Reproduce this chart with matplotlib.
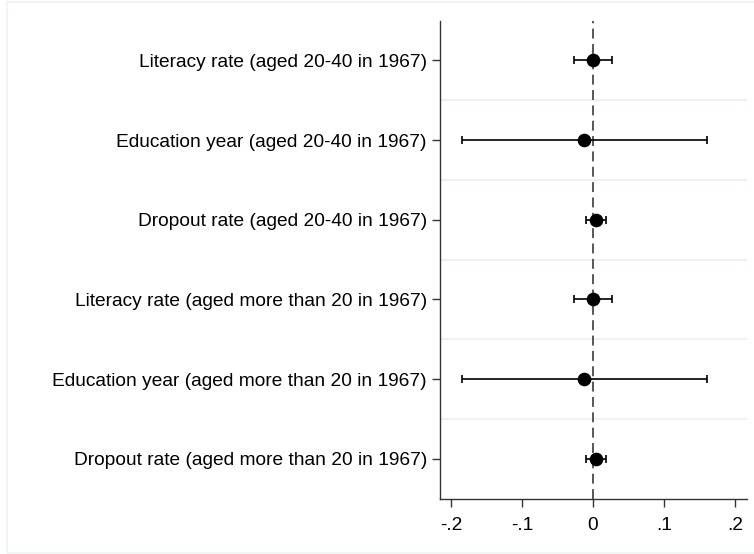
import matplotlib
matplotlib.use("Agg")
import matplotlib.pyplot as plt
from matplotlib.patches import Rectangle

labels = [
    "Literacy rate (aged 20-40 in 1967)",
    "Education year (aged 20-40 in 1967)",
    "Dropout rate (aged 20-40 in 1967)",
    "Literacy rate (aged more than 20 in 1967)",
    "Education year (aged more than 20 in 1967)",
    "Dropout rate (aged more than 20 in 1967)",
]
coef = [0.0, -0.012, 0.0045, 0.0, -0.012, 0.0045]
ci_low = [-0.027, -0.184, -0.0095, -0.027, -0.184, -0.0097]
ci_high = [0.027, 0.160, 0.018, 0.027, 0.160, 0.018]
xticks = [-0.2, -0.1, 0, 0.1, 0.2]
xticklabels = ["-.2", "-.1", "0", ".1", ".2"]

plt.rcParams['font.family'] = ['Liberation Sans', 'DejaVu Sans']

fig = plt.figure(figsize=(7.54, 5.54), dpi=100)
# light outer frame like the Stata graph region
fig.patches.append(Rectangle((7 / 754, 1 - 553 / 554), 1.0, 551 / 554,
                             transform=fig.transFigure, fill=False,
                             edgecolor="#edf3f3", linewidth=1.2))
ax = fig.add_axes([439.5 / 754, 1 - 498.5 / 554, 307.5 / 754, 478 / 554])

ypos = list(range(1, len(labels) + 1))
xerr = [[c - lo for c, lo in zip(coef, ci_low)], [hi - c for c, hi in zip(coef, ci_high)]]
ax.errorbar(coef, ypos, xerr=xerr, fmt='o', color='black', ecolor='black',
            markersize=8.8, elinewidth=1.2, capsize=3.2, capthick=1.2, zorder=3)

ax.axvline(0, color='#4a4a4a', linestyle=(0, (5.5, 3)), linewidth=1.3, zorder=2)

# row separators
for y in range(1, len(labels)):
    ax.axhline(y + 0.5, color='#e8f0f2', linewidth=1.2, zorder=1)

ax.set_ylim(len(labels) + 0.5, 0.5)
ax.set_xlim(-0.216, 0.217)
ax.set_yticks(ypos)
ax.set_yticklabels(labels, fontsize=13.8)
ax.set_xticks(xticks)
ax.set_xticklabels(xticklabels, fontsize=13.8)

for s in ['top', 'right']:
    ax.spines[s].set_visible(False)
for s in ['left', 'bottom']:
    ax.spines[s].set_color('#333333')
    ax.spines[s].set_linewidth(1.0)
ax.tick_params(axis='both', length=6, width=1.0, color='#333333')
ax.tick_params(axis='y', pad=3)
ax.tick_params(axis='x', pad=7)

fig.savefig("out.png", dpi=100)
